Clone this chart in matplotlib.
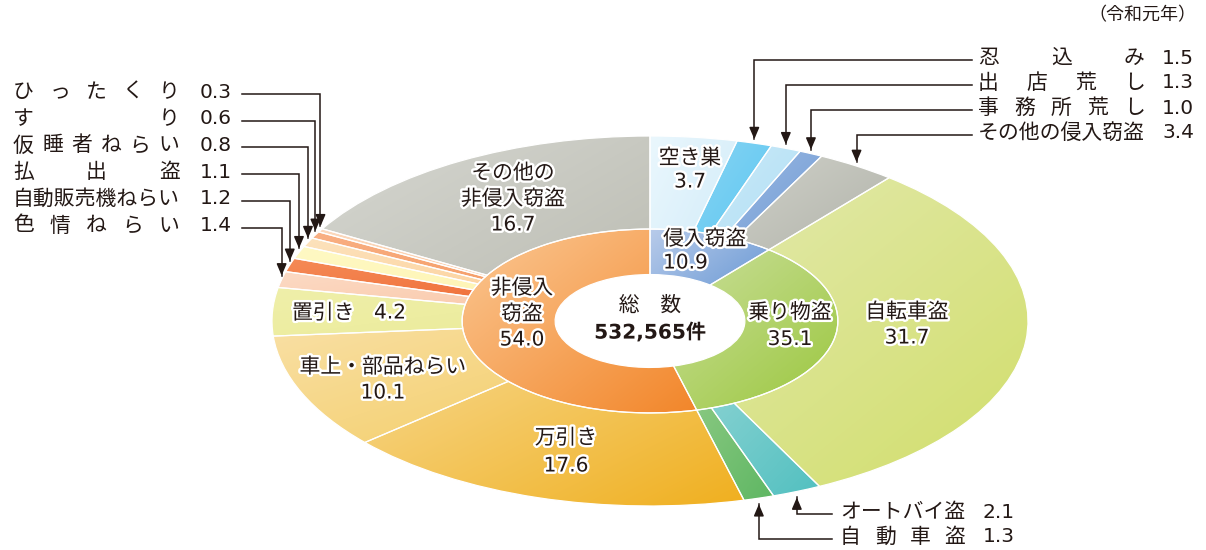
import numpy as np
import matplotlib.pyplot as plt
import matplotlib.patheffects as pe
from matplotlib.colors import to_rgb

plt.rcParams['font.family'] = ['Noto Sans CJK JP', 'DejaVu Sans']
NUMFONT = ['DejaVu Sans', 'Noto Sans CJK JP']

# ---- data (令和元年, 構成比 %) ----
outer_names = ['空き巣', '忍込み', '出店荒し', '事務所荒し', 'その他の侵入窃盗',
               '自転車盗', 'オートバイ盗', '自動車盗',
               '万引き', '車上・部品ねらい', '置引き', '色情ねらい', '自動販売機ねらい',
               '払出盗', '仮睡者ねらい', 'すり', 'ひったくり', 'その他の非侵入窃盗']
outer_vals = [3.7, 1.5, 1.3, 1.0, 3.4,
              31.7, 2.1, 1.3,
              17.6, 10.1, 4.2, 1.4, 1.2, 1.1, 0.8, 0.6, 0.3, 16.7]
inner_names = ['侵入窃盗', '乗り物盗', '非侵入窃盗']
inner_vals = [10.9, 35.1, 54.0]
total = '532,565'
year = '（令和元年）'

# gradient colours (light top-left -> dark bottom-right)
outer_cols = [('#eaf7fd', '#cce9f8'), ('#95d8f5', '#4cc2ef'), ('#d4eefa', '#a6daf3'),
              ('#b0c6e8', '#5b8ecf'), ('#d8d9d2', '#a7a99f'),
              ('#e4eab2', '#d1de6a'), ('#a6dcdc', '#52c0c0'), ('#a6d496', '#5fb763'),
              ('#f7dc98', '#f0af1e'), ('#f9e0a6', '#f3cc62'), ('#efefaa', '#ebeb98'),
              ('#fcdac4', '#f9c3a2'), ('#f58a56', '#ed622c'), ('#fff9c4', '#fdf2ac'),
              ('#fde2bc', '#fcca8e'), ('#f9b084', '#f29154'), ('#fcd8bc', '#fac69e'),
              ('#d6d7d1', '#babbb1')]
inner_cols = [('#b8cbea', '#5a8fd0'), ('#cde0a0', '#9bc73e'), ('#fbc894', '#f2862a')]

TXT = '#231815'
W, H = 1206, 550
CX, CY, RX, RY = 650, 321, 378, 185
FS = 15
EM = FS * 100 / 72


def px(x, y):
    return (x - CX) / RX, (CY - y) / RY


fig = plt.figure(figsize=(W / 100, H / 100), dpi=100)
ax = fig.add_axes([0, 0, 1, 1])

w_out, _ = ax.pie(outer_vals, radius=1.0, startangle=90, counterclock=False,
                  wedgeprops=dict(width=0.503, edgecolor='white', linewidth=0.9))
w_in, _ = ax.pie(inner_vals, radius=0.497, startangle=90, counterclock=False,
                 wedgeprops=dict(width=0.246, edgecolor='white', linewidth=0.9))


def grad_fill(w, c1, c2):
    v = w.get_path().vertices
    x0, y0 = v.min(0)
    x1, y1 = v.max(0)
    gx, gy = np.meshgrid(np.linspace(0, 1, 80), np.linspace(0, 1, 80))
    t = (gx + (1 - gy)) / 2
    c1, c2 = np.array(to_rgb(c1)), np.array(to_rgb(c2))
    img = c1 + (c2 - c1) * t[..., None]
    im = ax.imshow(img, extent=(x0, x1, y0, y1), origin='lower', aspect='auto',
                   interpolation='bilinear', zorder=1)
    im.set_clip_path(w)
    w.set_facecolor('none')
    w.set_zorder(2)


for w, (a, b) in zip(w_out, outer_cols):
    grad_fill(w, a, b)
for w, (a, b) in zip(w_in, inner_cols):
    grad_fill(w, a, b)

ax.set_aspect('auto')
ax.set_xlim(px(0, 0)[0], px(W, 0)[0])
ax.set_ylim(px(0, H)[1], px(0, 0)[1])
ax.axis('off')

halo = [pe.withStroke(linewidth=3.5, foreground='white')]


def is_num(s):
    return s[:1].isdigit()


def lines(x, y, rows, gap, ha='center', bold=None):
    y0 = y - gap * (len(rows) - 1) / 2
    for i, r in enumerate(rows):
        ax.text(*px(x, y0 + i * gap), r, fontsize=FS - 0.5 if is_num(r) else FS,
                color=TXT, ha=ha, va='center', path_effects=halo, zorder=5,
                family=NUMFONT if is_num(r) else None,
                fontweight='bold' if bold and i in bold else 'normal')


def fmt(v):
    return f'{v:.1f}'


# labels inside the rings
lines(690, 170, [outer_names[0], fmt(outer_vals[0])], 24)
lines(663, 251, [inner_names[0], fmt(inner_vals[0])], 24, ha='left')
lines(790, 326, [inner_names[1], fmt(inner_vals[1])], 27)
lines(522, 314, ['非侵入', '窃盗', fmt(inner_vals[2])], 26)
lines(513, 199, ['その他の', '非侵入窃盗', fmt(outer_vals[17])], 26)
lines(907, 325, [outer_names[5], fmt(outer_vals[5])], 26)
lines(566, 452, [outer_names[8], fmt(outer_vals[8])], 28)
lines(383, 380, [outer_names[9], fmt(outer_vals[9])], 26)
lines(292, 313, [outer_names[10]], 0, ha='left')
lines(374, 313, [fmt(outer_vals[10])], 0, ha='left')
lines(650, 319, ['総\u3000数', total + '件'], 27, bold=[1])

ax.text(*px(1196, 15), year, fontsize=13, color=TXT, ha='right', va='center')

# mid angles of outer wedges
cum = np.cumsum([0] + outer_vals[:-1])
theta = 2 * np.pi * (cum + np.array(outer_vals) / 2) / sum(outer_vals)


def spread(x, y, s, width):
    n = len(s)
    if n * EM >= width - 1:
        ax.text(*px(x, y), s, fontsize=FS, color=TXT, ha='left', va='center')
        return
    step = (width - EM) / (n - 1)
    for i, ch in enumerate(s):
        ax.text(*px(x + i * step, y), ch, fontsize=FS, color=TXT, ha='left', va='center')


def callout(i, x_lab, y, x_num, x_line, width, below=False):
    spread(x_lab, y, outer_names[i], width)
    ax.text(*px(x_num, y), fmt(outer_vals[i]), fontsize=FS - 0.5, color=TXT,
            ha='left', va='center', family=NUMFONT)
    tx, ty = np.sin(theta[i]), np.cos(theta[i])
    ty = ty - 6 / RY if below else ty + 4 / RY
    ly = px(0, y + 2)[1]
    lx = px(x_line, 0)[0]
    ax.plot([lx, tx, tx], [ly, ly, ty], color=TXT, lw=1.1, zorder=6,
            solid_joinstyle='miter')
    d = -8 / RY if below else 8 / RY
    ax.annotate('', xy=(tx, ty), xytext=(tx, ty + d),
                arrowprops=dict(arrowstyle='-|>,head_length=0.7,head_width=0.3',
                                color=TXT, lw=1.1, shrinkA=0, shrinkB=0), zorder=6)


left_idx = [16, 15, 14, 13, 12, 11]
for k, i in enumerate(left_idx):
    callout(i, 13, 92 + k * 26.7, 200, 242, 8 * EM)

right_idx = [1, 2, 3, 4]
for k, i in enumerate(right_idx):
    callout(i, 978, 58 + k * 25, 1162, 972, 8 * EM)

bottom_idx = [6, 7]
for k, i in enumerate(bottom_idx):
    callout(i, 840, 512 + k * 25, 983, 832, 6 * EM, below=True)

fig.savefig('out.png', dpi=100)
